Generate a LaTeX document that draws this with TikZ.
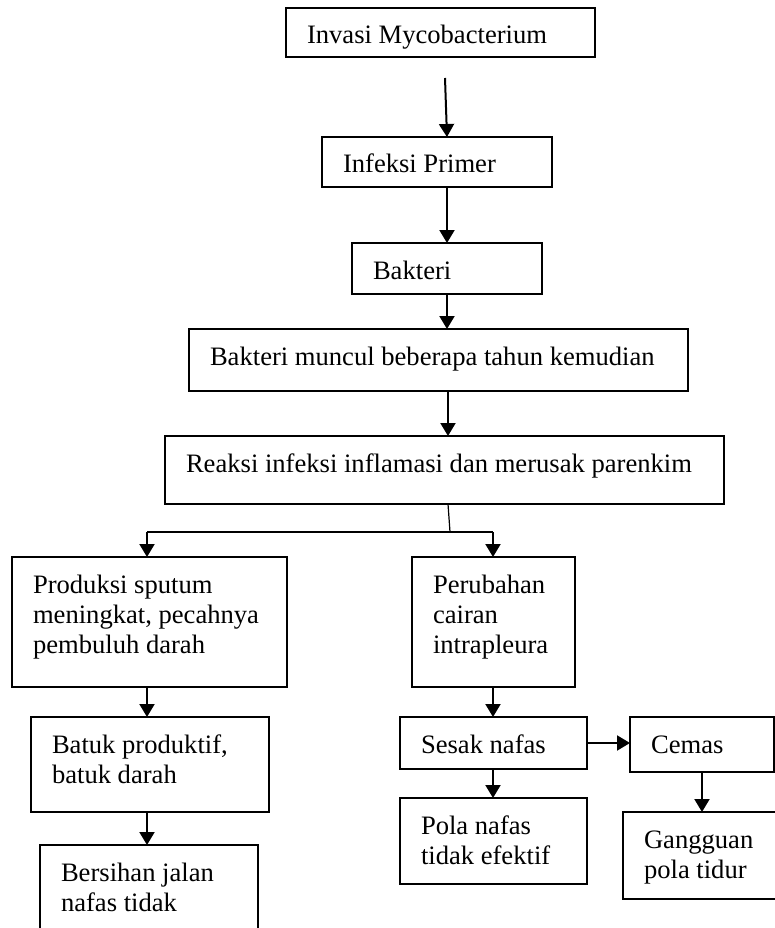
\documentclass[tikz,border=0pt]{standalone}
\usepackage{fontspec}
\setmainfont{Liberation Serif}
\usetikzlibrary{arrows.meta}
\newcommand{\boxtxt}[3]{\parbox[c][#2pt][t]{#1pt}{\leftskip=21pt\parindent=0pt\rightskip=0pt plus 1fil\hbadness=10000\rule{0pt}{36pt}#3}}
\tikzset{
  flowbox/.style={draw, line width=1.2pt, inner sep=0pt, outer sep=0pt, anchor=north west,
    font=\fontsize{26.6pt}{30pt}\selectfont},
  arr/.style={line width=2pt, -{Triangle[width=15pt,length=13pt]}},
  thinline/.style={line width=1.2pt},
  joinline/.style={line width=2pt}
}
\begin{document}
\begin{tikzpicture}[x=1pt,y=-1pt]
\useasboundingbox (0,0) rectangle (775,928);
\node[flowbox] (inv) at (286,8) {\boxtxt{309}{49}{Invasi Mycobacterium}};
\node[flowbox] (inf) at (322,137) {\boxtxt{230}{50}{Infeksi Primer}};
\node[flowbox] (bak) at (352,243) {\boxtxt{190}{51}{Bakteri}};
\node[flowbox] (muncul) at (189,329) {\boxtxt{499}{62}{Bakteri muncul beberapa tahun kemudian}};
\node[flowbox] (reaksi) at (165,436) {\boxtxt{559}{68}{Reaksi infeksi inflamasi dan merusak parenkim}};
\node[flowbox] (prod) at (12,557) {\boxtxt{275}{130}{Produksi sputum\\meningkat, pecahnya\\pembuluh darah}};
\node[flowbox] (peru) at (412,557) {\boxtxt{163}{130}{Perubahan\\cairan\\intrapleura}};
\node[flowbox] (batuk) at (31,717) {\boxtxt{238}{95}{Batuk produktif,\\batuk darah}};
\node[flowbox] (sesak) at (400,717) {\boxtxt{187}{52}{Sesak nafas}};
\node[flowbox] (cemas) at (630,717) {\boxtxt{144}{55}{Cemas}};
\node[flowbox] (bersih) at (40,845) {\boxtxt{218}{115}{Bersihan jalan\\nafas tidak}};
\node[flowbox] (pola) at (400,798) {\boxtxt{187}{86}{Pola nafas\\tidak efektif}};
\node[flowbox] (gang) at (623,812) {\boxtxt{154}{87}{Gangguan\\pola tidur}};

\draw[arr] ([xshift=4.5pt,yshift=-21pt]inv.south) -- ([xshift=10pt]inf.north);
\draw[arr] ([xshift=10pt]inf.south) -- (bak.north);
\draw[arr] (bak.south) -- ([xshift=8.5pt]muncul.north);
\draw[arr] ([xshift=9.5pt]muncul.south) -- ([xshift=3.5pt]reaksi.north);
\draw[thinline] ([xshift=3.5pt]reaksi.south) -- ++(2,28) coordinate (split);
\draw[joinline] ([xshift=-2.5pt]prod.north |- split) -- ([xshift=-0.5pt]peru.north |- split);
\draw[arr] ([xshift=-2.5pt]prod.north |- split) -- ([xshift=-2.5pt]prod.north);
\draw[arr] ([xshift=-0.5pt]peru.north |- split) -- ([xshift=-0.5pt]peru.north);
\draw[arr] ([xshift=-2.5pt]prod.south) -- ([xshift=-3pt]batuk.north);
\draw[arr] ([xshift=-0.5pt]peru.south) -- ([xshift=-0.5pt]sesak.north);
\draw[arr] ([xshift=-3pt]batuk.south) -- ([xshift=-2pt]bersih.north);
\draw[arr] ([xshift=-0.5pt]sesak.south) -- ([xshift=-0.5pt]pola.north);
\draw[arr] (sesak.east) -- (sesak.east -| cemas.west);
\draw[arr] (cemas.south) -- (cemas.south |- gang.north);
\end{tikzpicture}
\end{document}
